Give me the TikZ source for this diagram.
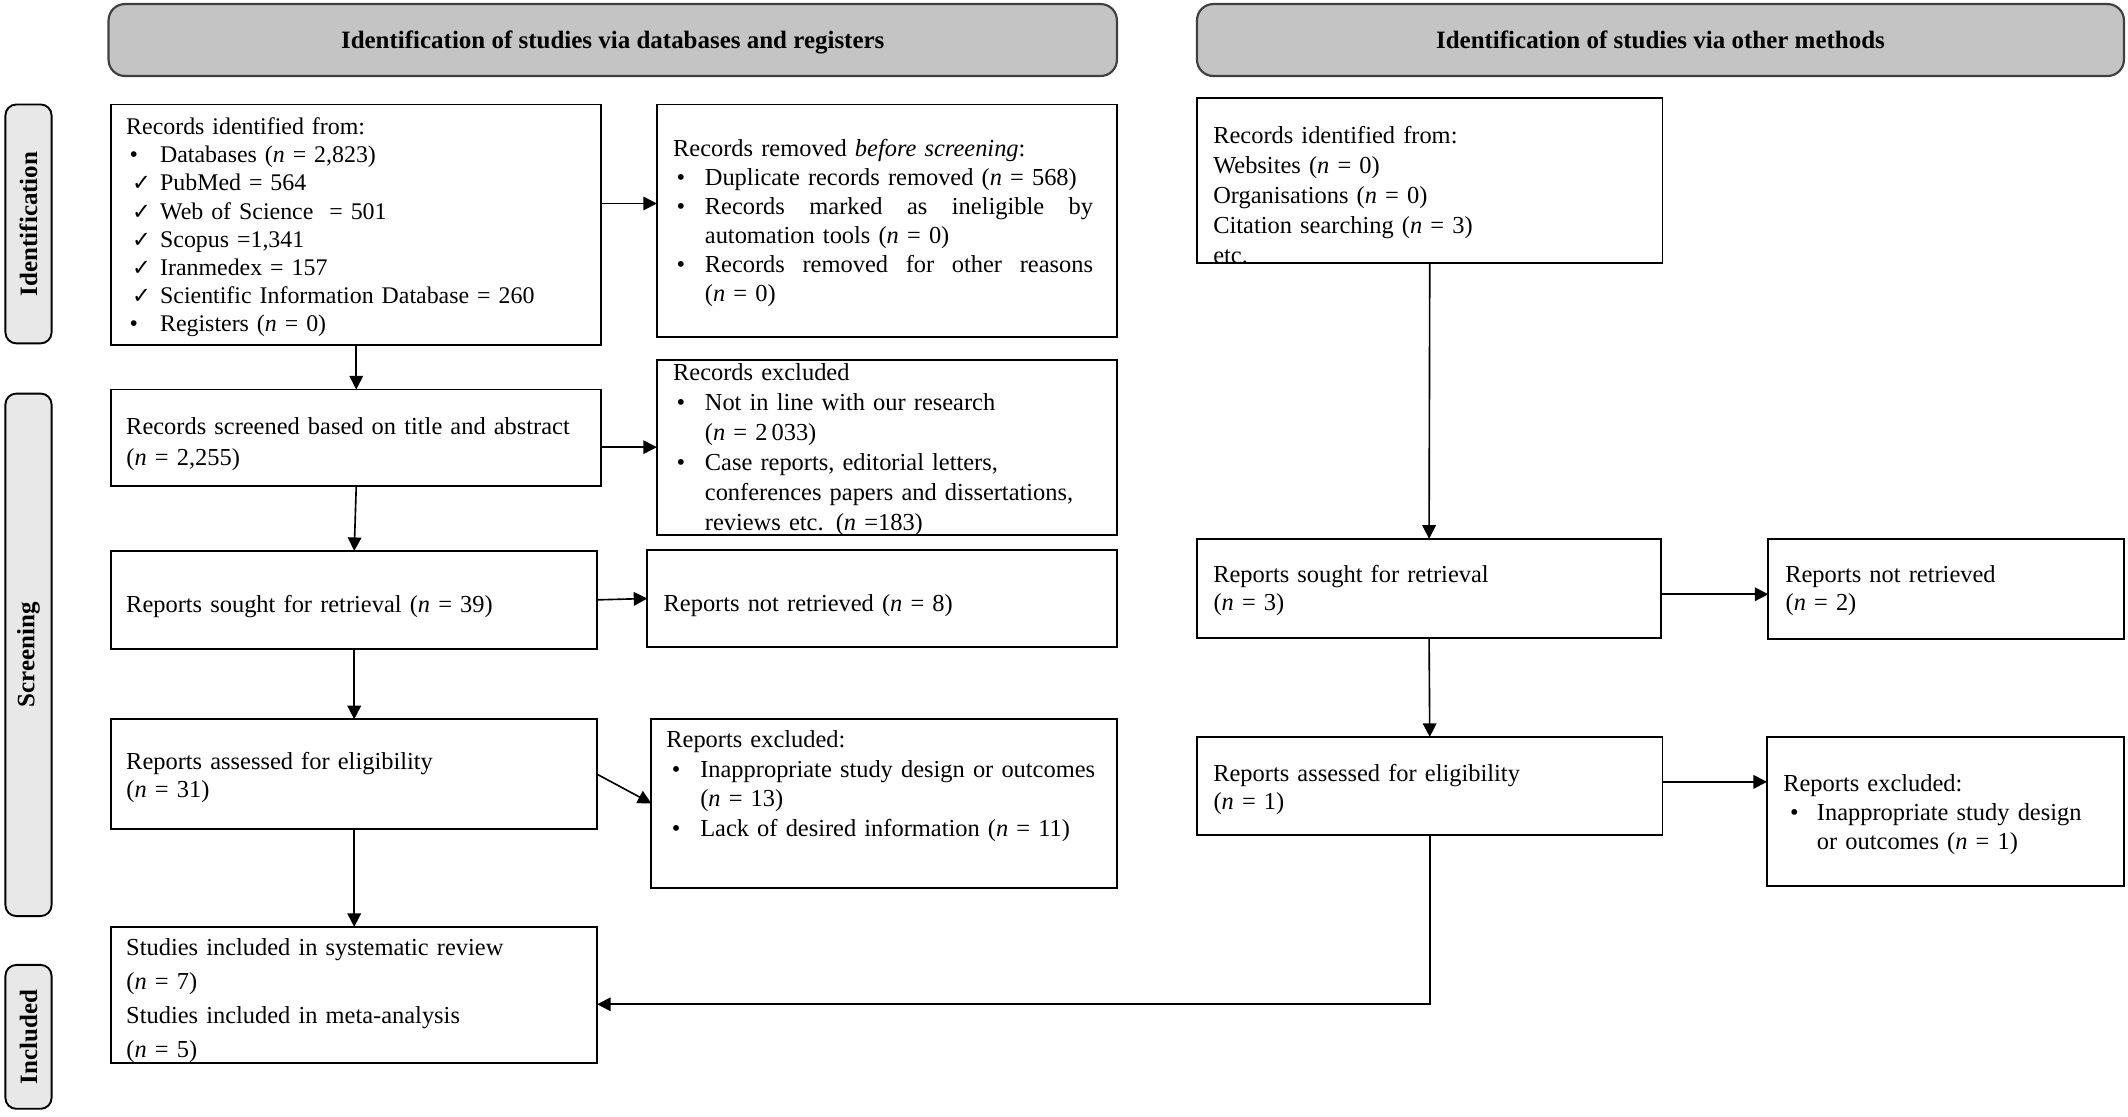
\documentclass[tikz,border=0pt]{standalone}
\usepackage{fontspec}
\setmainfont{Liberation Serif}
\newfontfamily\dvs{DejaVu Sans}
\usetikzlibrary{arrows.meta,fit,calc}
\definecolor{hdrgray}{HTML}{C4C4C4}
\definecolor{sidegray}{HTML}{E8E8E8}
\newcommand{\nn}{\textit{n}}
\newcommand{\fs}[1]{\fontsize{9pt}{#1}\selectfont}
\newcommand{\fsb}[1]{\fontsize{8.8pt}{#1}\selectfont}
\newcommand{\fb}[1]{\fontsize{9.2pt}{#1}\selectfont}
\newcommand{\blt}[2]{\makebox[0pt][l]{\hspace*{#1}•}\hspace*{#2}}
\newcommand{\chk}[2]{\makebox[0pt][l]{\hspace*{#1}{\dvs\fontsize{8.3pt}{8pt}\selectfont ✓}}\hspace*{#2}}
\newcommand{\jline}[1]{\hbox to 143pt{#1}}
\newcommand{\nl}{\par\noindent}
\newcommand{\lp}{\hspace*{0.1pt}\char"0028\relax}
\begin{document}
\begin{tikzpicture}[x=0.5pt,y=-0.5pt,
  box/.style={draw, line width=0.7pt, inner sep=0pt, outer sep=0pt},
  hdr/.style={draw=black!75, fill=hdrgray, line width=0.8pt, rounded corners=6pt, inner sep=0pt, outer sep=0pt},
  hdrtxt/.style={font=\bfseries\fb{11pt}, inner sep=0pt},
  side/.style={draw, fill=sidegray, line width=0.7pt, rounded corners=4pt, inner sep=0pt, outer sep=0pt},
  sidetxt/.style={rotate=90, font=\bfseries\fb{11pt}, inner sep=0pt},
  txt/.style={anchor=base west, inner sep=0pt, outer sep=0pt, align=left, text width=200pt},
  arr/.style={-{Triangle[length=5pt,width=5pt]}, line width=0.6pt}]
\useasboundingbox (0,0) rectangle (1568,823);

% headers
\node[hdr, fit={(80,3) (823,56)}] (h1) {};
\node[hdrtxt] at ([yshift=-1pt]h1.center) {Identification of studies via databases and registers};
\node[hdr, fit={(882,3) (1565,56)}] (h2) {};
\node[hdrtxt] at (h2) {Identification of studies via other methods};

% side labels
\node[side, fit={(4,77) (38,253)}] (s1) {};
\node[sidetxt] at (s1) {Identification};
\node[side, fit={(4,290) (38,675)}] (s2) {};
\node[sidetxt] at (s2) {Screening};
\node[side, fit={(4,711) (38,817)}] (s3) {};
\node[sidetxt] at (s3) {Included};

% boxes
\node[box, fit={(82,77) (443,254)}] (b1) {};
\node[box, fit={(484,77) (823,248)}] (b2) {};
\node[box, fit={(82,287) (443,358)}] (b3) {};
\node[box, fit={(484,265) (823,394)}] (b4) {};
\node[box, fit={(82,406) (440,478)}] (b5) {};
\node[box, fit={(477,405) (823,477)}] (b6) {};
\node[box, fit={(82,530) (440,611)}] (b7) {};
\node[box, fit={(480,530) (823,654)}] (b8) {};
\node[box, fit={(82,683) (440,783)}] (b9) {};
\node[box, fit={(882,72) (1225,194)}] (r1) {};
\node[box, fit={(882,397) (1224,470)}] (r2) {};
\node[box, fit={(1303,397) (1565,471)}] (r3) {};
\node[box, fit={(882,543) (1225,615)}] (r4) {};
\node[box, fit={(1302,543) (1565,653)}] (r5) {};

% texts
\node[txt, font=\fsb{10.4pt}] (t1) at (93,99) {Records identified from:\nl
\blt{1.3pt}{12.5pt}Databases (\nn{} = 2,823)\nl
\chk{2.2pt}{12.5pt}PubMed = 564\nl
\chk{2.2pt}{12.5pt}Web of Science\ \ = 501\nl
\chk{2.2pt}{12.5pt}Scopus =1,341\nl
\chk{2.2pt}{12.5pt}Iranmedex = 157\nl
\chk{2.2pt}{12.5pt}Scientific Information Database = 260\nl
\blt{1.3pt}{12.5pt}Registers (\nn{} = 0)};

\node[txt, font=\fs{10.75pt}] (t2) at (496,115) {Records removed \textit{before screening}:\nl
\blt{1.3pt}{11.7pt}Duplicate records removed (\nn{} = 568)\nl
\blt{1.3pt}{11.7pt}\jline{Records\hfill marked\hfill as\hfill ineligible\hfill by}\nl
\hspace*{11.7pt}automation tools (\nn{} = 0)\nl
\blt{1.3pt}{11.7pt}\jline{Records\hfill removed\hfill for\hfill other\hfill reasons}\nl
\hspace*{11.7pt}(\nn{} = 0)};

\node[txt, font=\fs{11.4pt}] (t3) at (93,320.5) {Records screened based on title and abstract\nl
\lp\nn{} = 2,255)};

\node[txt, font=\fs{11.05pt}] (t4) at (496,280.5) {Records excluded\nl
\blt{1.3pt}{11.7pt}Not in line with our research\nl
\hspace*{11.7pt}(\nn{} = 2\,033)\nl
\blt{1.3pt}{11.7pt}Case reports, editorial letters,\nl
\hspace*{11.7pt}conferences papers and dissertations,\nl
\hspace*{11.7pt}reviews etc. (\nn{} =183)};

\node[txt, font=\fs{11pt}] (t5) at (93,451.5) {Reports sought for retrieval (\nn{} = 39)};
\node[txt, font=\fs{11pt}] (t6) at (489,450.5) {Reports not retrieved (\nn{} = 8)};

\node[txt, font=\fs{10.4pt}] (t7) at (93,567) {Reports assessed for eligibility\nl
\lp\nn{} = 31)};

\node[txt, font=\fs{10.85pt}] (t8) at (491,551) {Reports excluded:\nl
\blt{2pt}{12.5pt}Inappropriate study design or outcomes\nl
\hspace*{12.5pt}(\nn{} = 13)\nl
\blt{2pt}{12.5pt}Lack of desired information (\nn{} = 11)};

\node[txt, font=\fs{12.5pt}] (t9) at (93,704) {Studies included in systematic review\nl
\lp\nn{} = 7)\nl
Studies included in meta-analysis\nl
\lp\nn{} = 5)};

\node[txt, font=\fs{11.05pt}] (u1) at (894,106) {Records identified from:\nl
Websites (\nn{} = 0)\nl
Organisations (\nn{} = 0)\nl
Citation searching (\nn{} = 3)\nl
etc.};

\node[txt, font=\fs{10.45pt}] (u2) at (894,429) {Reports sought for retrieval\nl
\lp\nn{} = 3)};
\node[txt, font=\fs{10.45pt}] (u3) at (1315.5,429) {Reports not retrieved\nl
\lp\nn{} = 2)};
\node[txt, font=\fs{10.4pt}] (u4) at (894,575.5) {Reports assessed for eligibility\nl
\lp\nn{} = 1)};
\node[txt, font=\fs{10.75pt}] (u5) at (1314,583) {Reports excluded:\nl
\blt{2.5pt}{12.4pt}Inappropriate study design\nl
\hspace*{12.4pt}or outcomes (\nn{} = 1)};

% connectors
\draw[arr] ($(b1.north east)!0.412!(b1.south east)$) coordinate (p1) -- (p1 -| b2.west);
\draw[arr] (b1.south) -- (b3.north);
\draw[arr] (b3.east |- b4.west) -- (b4.west);
\draw[arr] (b3.south) -- (b5.north);
\draw[arr] (b5.east) -- (b6.west);
\draw[arr] (b5.south) -- (b7.north);
\draw[arr] (b7.east) -- (b8.west);
\draw[arr] (b7.south) -- (b9.north);
\draw[arr] (r1.south) -- (r2.north);
\draw[arr] ($(r2.north east)!0.56!(r2.south east)$) coordinate (p2) -- (p2 -| r3.west);
\draw[arr] (r2.south) -- (r4.north);
\draw[arr] ($(r4.north east)!0.46!(r4.south east)$) coordinate (p3) -- (p3 -| r5.west);
\draw[arr] (r4.south) |- ($(b9.north east)!0.57!(b9.south east)$);
\end{tikzpicture}
\end{document}
